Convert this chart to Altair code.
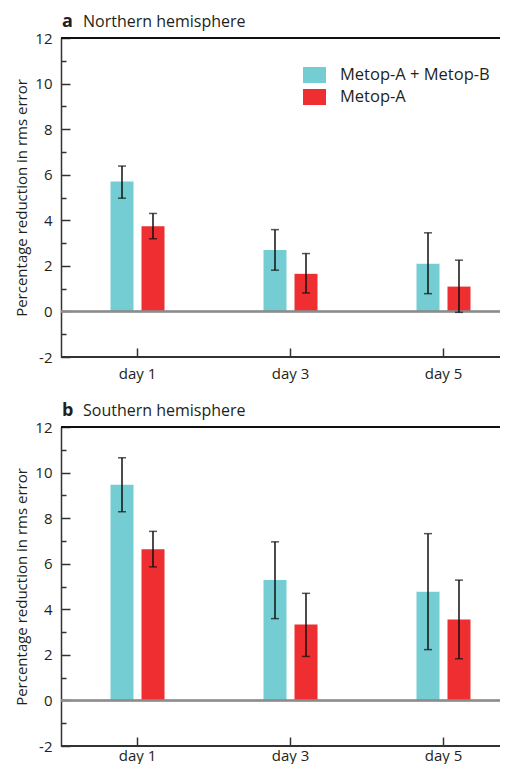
import altair as alt
import pandas as pd

days = ["day 1", "day 3", "day 5"]
series = ["Metop-A + Metop-B", "Metop-A"]
colors = ["#74CDD2", "#EE2E31"]

# Northern hemisphere
nh_ab = [5.70, 2.70, 2.09]
nh_ab_lo = [4.97, 1.81, 0.78]
nh_ab_hi = [6.38, 3.59, 3.45]
nh_a = [3.74, 1.65, 1.09]
nh_a_lo = [3.19, 0.81, -0.04]
nh_a_hi = [4.30, 2.54, 2.25]

# Southern hemisphere
sh_ab = [9.47, 5.29, 4.77]
sh_ab_lo = [8.28, 3.59, 2.23]
sh_ab_hi = [10.65, 6.96, 7.32]
sh_a = [6.64, 3.33, 3.55]
sh_a_lo = [5.86, 1.93, 1.83]
sh_a_hi = [7.42, 4.70, 5.28]

y_major = [-2, 0, 2, 4, 6, 8, 10, 12]
y_minor = [-1, 1, 3, 5, 7, 9, 11]
y_title = "Percentage reduction in rms error"

FONT = "Open Sans"
TXT = "#231F20"
AX = "#333333"


def make_df(ab, ab_lo, ab_hi, a, a_lo, a_hi):
    rows = []
    for i, d in enumerate(days):
        rows.append({"day": d, "series": series[0], "value": ab[i], "lo": ab_lo[i], "hi": ab_hi[i]})
        rows.append({"day": d, "series": series[1], "value": a[i], "lo": a_lo[i], "hi": a_hi[i]})
    return pd.DataFrame(rows)


def panel(df, letter, name, show_legend, x_label_pad):
    # the frame runs past the page edge: bands keep the full 3 x 153 px span
    xscale = alt.Scale(domain=days, range=[0, 459], paddingInner=0, paddingOuter=0)
    yscale = alt.Scale(domain=[-2, 12], nice=False, zero=False)
    off = alt.XOffset("series:N", sort=series,
                      scale=alt.Scale(domain=series, range=[49.5, 103.5],
                                      paddingInner=0.258, paddingOuter=0))

    if show_legend:
        legend = alt.Legend(
            orient="none", legendX=242, legendY=26, title=None,
            symbolType="M-1,-0.7L1,-0.7L1,0.7L-1,0.7Z", symbolSize=529,
            symbolStrokeWidth=0, symbolOpacity=1, labelFontSize=16.5, labelFont=FONT,
            labelColor=TXT, labelOffset=14, clipHeight=22, rowPadding=0, padding=0,
        )
    else:
        legend = None

    bars = alt.Chart(df).mark_bar(opacity=1).encode(
        x=alt.X("day:N", sort=days, scale=xscale,
                axis=alt.Axis(orient="bottom", offset=0, domain=False,
                              ticks=False, labels=True, labelAngle=0,
                              labelFontSize=15, labelFont=FONT, labelColor=TXT,
                              labelPadding=x_label_pad, title=None, grid=False)),
        xOffset=off,
        y=alt.Y("value:Q", scale=yscale,
                axis=alt.Axis(orient="left", offset=0, values=y_major, ticks=False,
                              domain=True, domainColor=AX, domainWidth=1.5, grid=False,
                              labelExpr="'' + datum.value",
                              labelFontSize=15, labelFont=FONT, labelColor=TXT,
                              labelPadding=9, title=y_title, titleFont=FONT,
                              titleFontSize=15, titleFontWeight="normal",
                              titleColor=TXT, titlePadding=5)),
        color=alt.Color("series:N", sort=series,
                        scale=alt.Scale(domain=series, range=colors), legend=legend),
    )

    zero = alt.Chart(df).mark_rule(color="#8C8C8C", strokeWidth=1.5).encode(
        y=alt.Y(datum=0, type="quantitative", scale=yscale, axis=None),
    )
    top_line = alt.Chart(df).mark_rule(color="#111111", strokeWidth=1.5).encode(
        y=alt.Y(datum=12, type="quantitative", scale=yscale, axis=None),
    )
    bottom_line = alt.Chart(df).mark_rule(color=AX, strokeWidth=1.5).encode(
        y=alt.Y(datum=-2, type="quantitative", scale=yscale, axis=None),
    )

    err = alt.Chart(df).mark_rule(color="#111111", strokeWidth=1.5).encode(
        x=alt.X("day:N", sort=days, scale=xscale,
                axis=alt.Axis(orient="bottom", offset=-9, tickSize=9, ticks=True,
                              tickColor=AX, tickWidth=1.5, domain=False, labels=False,
                              title=None, grid=False)),
        xOffset=off,
        y=alt.Y("lo:Q", scale=yscale,
                axis=alt.Axis(orient="left", offset=-9, values=y_major, tickSize=9,
                              ticks=True, tickColor=AX, tickWidth=1.5, domain=False,
                              labels=False, title=None, grid=False)),
        y2="hi:Q",
    )

    caps = alt.Chart(df).transform_fold(["lo", "hi"], as_=["end", "v"]).mark_tick(
        color="#111111", thickness=1.5, size=8).encode(
        x=alt.X("day:N", sort=days, scale=xscale, axis=None),
        xOffset=off,
        y=alt.Y("v:Q", scale=yscale,
                axis=alt.Axis(orient="left", offset=-5, values=y_minor, tickSize=5,
                              ticks=True, tickColor=AX, tickWidth=1.5, domain=False,
                              labels=False, title=None, grid=False)),
    )

    t_letter = alt.Chart(pd.DataFrame({"t": [letter]})).mark_text(
        align="left", baseline="alphabetic", fontSize=18, fontWeight="bold",
        font=FONT, color=TXT).encode(text="t:N", x=alt.value(1), y=alt.value(-11))
    t_name = alt.Chart(pd.DataFrame({"t": [name]})).mark_text(
        align="left", baseline="alphabetic", fontSize=16, font=FONT,
        color=TXT).encode(text="t:N", x=alt.value(22), y=alt.value(-11))

    return alt.layer(bars, zero, top_line, bottom_line, err, caps, t_letter, t_name).resolve_axis(
        x="independent", y="independent").properties(width=447, height=319)


top = panel(make_df(nh_ab, nh_ab_lo, nh_ab_hi, nh_a, nh_a_lo, nh_a_hi),
            "a", "Northern hemisphere", True, 9)
bottom = panel(make_df(sh_ab, sh_ab_lo, sh_ab_hi, sh_a, sh_a_lo, sh_a_hi),
               "b", "Southern hemisphere", False, 2)

chart = alt.vconcat(top, bottom, spacing=19).resolve_scale(color="independent").properties(
    padding={"left": 6, "top": 4, "right": -21, "bottom": 0}
).configure_view(strokeWidth=0).configure(background="white")

chart.save("out.html", embed_options={"renderer": "svg", "actions": False})
